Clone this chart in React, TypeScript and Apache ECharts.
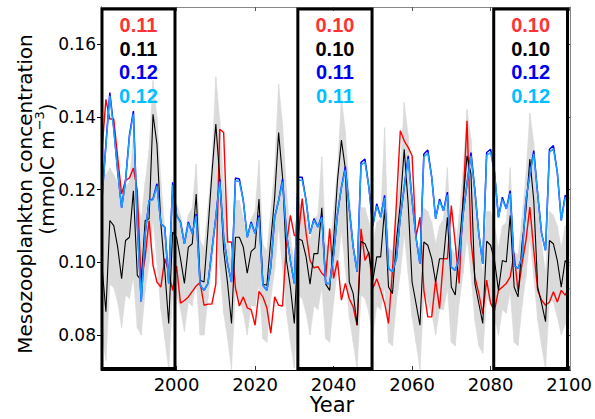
import React, { useEffect, useRef } from "react";
import * as echarts from "echarts";

const FIRST_YEAR = 1981;
const years: number[] = Array.from({ length: 120 }, (_, i) => FIRST_YEAR + i);

const xTicks = [2000, 2020, 2040, 2060, 2080, 2100];
const yTicks = [0.08, 0.1, 0.12, 0.14, 0.16];

const redValues = [
  0.1307, 0.1448, 0.1394, 0.1394, 0.1289, 0.1188, 0.1225, 0.1232, 0.1259, 0.1197,
  0.0942, 0.1015, 0.1115, 0.0992, 0.0946, 0.0932, 0.1010, 0.0974, 0.0923, 0.0990,
  0.0888, 0.0895, 0.0905, 0.0920, 0.0935, 0.0945, 0.0882, 0.0885, 0.0885, 0.0940,
  0.1366, 0.1357, 0.1056, 0.1056, 0.0930, 0.0880, 0.0905, 0.0875, 0.0870, 0.0827,
  0.0920, 0.0905, 0.0875, 0.0805, 0.0905, 0.0882, 0.0880, 0.1051, 0.1129, 0.1074,
  0.1070, 0.1175, 0.1080, 0.1005, 0.0985, 0.0988, 0.0970, 0.0960, 0.1093, 0.0956,
  0.1005, 0.0896, 0.0942, 0.0900, 0.0877, 0.0827, 0.1092, 0.1005, 0.1028, 0.0928,
  0.0955, 0.0923, 0.0887, 0.0832, 0.0978, 0.1161, 0.1362, 0.1334, 0.1316, 0.1293,
  0.1069, 0.1124, 0.0923, 0.0850, 0.0850, 0.0951, 0.0873, 0.1010, 0.1010, 0.1156,
  0.1051, 0.0942, 0.1170, 0.1389, 0.1060, 0.0960, 0.0914, 0.0859, 0.0951, 0.0887,
  0.0868, 0.0923, 0.0932, 0.0942, 0.0960, 0.1024, 0.0919, 0.0996, 0.1060, 0.1152,
  0.1033, 0.0923, 0.0896, 0.0882, 0.0891, 0.0919, 0.0891, 0.0923, 0.0910, 0.0930,
];

const blackValues = [
  0.0990, 0.0864, 0.1115, 0.1101, 0.1042, 0.0955, 0.1060, 0.1069, 0.1197, 0.0964,
  0.0951, 0.1115, 0.1120, 0.1407, 0.1325, 0.1106, 0.0978, 0.0832, 0.1083, 0.1069,
  0.1010, 0.0942, 0.1042, 0.1051, 0.1188, 0.0951, 0.0946, 0.1088, 0.1243, 0.1380,
  0.1234, 0.1033, 0.0942, 0.0832, 0.1069, 0.1069, 0.1042, 0.0970, 0.1030, 0.1040,
  0.1174, 0.0940, 0.0937, 0.1060, 0.1180, 0.1357, 0.1234, 0.1005, 0.0932, 0.0832,
  0.1065, 0.1060, 0.1015, 0.0940, 0.1024, 0.1024, 0.1150, 0.0940, 0.0923, 0.1060,
  0.1225, 0.1336, 0.1257, 0.0946, 0.0914, 0.0827, 0.1058, 0.1051, 0.1024, 0.0951,
  0.1015, 0.1015, 0.1147, 0.0932, 0.0914, 0.1060, 0.1161, 0.1311, 0.1161, 0.0946,
  0.0887, 0.0827, 0.1056, 0.1047, 0.1010, 0.0946, 0.1010, 0.1010, 0.1124, 0.0932,
  0.0910, 0.1042, 0.1170, 0.1293, 0.1243, 0.0942, 0.0887, 0.0832, 0.1058, 0.1047,
  0.1005, 0.0923, 0.1005, 0.1001, 0.1129, 0.0932, 0.0905, 0.1051, 0.1142, 0.1284,
  0.1170, 0.0932, 0.0887, 0.0837, 0.1060, 0.1051, 0.1005, 0.0932, 0.1005, 0.0990,
];

const blueValues = [
  0.1174, 0.1325, 0.1467, 0.1370, 0.1250, 0.1150, 0.1225, 0.1350, 0.1416, 0.1106,
  0.0891, 0.1079, 0.1170, 0.1174, 0.1216, 0.1106, 0.1097, 0.0942, 0.1220, 0.1129,
  0.1111, 0.1051, 0.1111, 0.1079, 0.1133, 0.0937, 0.0923, 0.0942, 0.1033, 0.1124,
  0.1229, 0.1069, 0.0996, 0.0946, 0.1232, 0.1229, 0.1170, 0.1069, 0.1111, 0.1079,
  0.1129, 0.0937, 0.0923, 0.0987, 0.1124, 0.1170, 0.1229, 0.1079, 0.1005, 0.0942,
  0.1234, 0.1234, 0.1170, 0.1079, 0.1120, 0.1097, 0.1129, 0.0942, 0.0942, 0.1020,
  0.1133, 0.1206, 0.1263, 0.1147, 0.1042, 0.0974, 0.1275, 0.1284, 0.1206, 0.1101,
  0.1161, 0.1124, 0.1184, 0.0983, 0.0974, 0.1010, 0.1124, 0.1206, 0.1293, 0.1170,
  0.1069, 0.0996, 0.1298, 0.1309, 0.1234, 0.1120, 0.1174, 0.1142, 0.1193, 0.0987,
  0.0978, 0.1010, 0.1133, 0.1216, 0.1302, 0.1197, 0.1079, 0.0996, 0.1302, 0.1311,
  0.1247, 0.1124, 0.1179, 0.1147, 0.1197, 0.0992, 0.0983, 0.1015, 0.1170, 0.1243,
  0.1307, 0.1188, 0.1079, 0.1033, 0.1311, 0.1321, 0.1247, 0.1115, 0.1184, 0.1175,
];

const cyanValues = [
  0.1174, 0.1320, 0.1458, 0.1365, 0.1250, 0.1150, 0.1222, 0.1345, 0.1408, 0.1106,
  0.0891, 0.1079, 0.1170, 0.1172, 0.1209, 0.1106, 0.1097, 0.0942, 0.1213, 0.1129,
  0.1109, 0.1051, 0.1107, 0.1079, 0.1128, 0.0937, 0.0923, 0.0942, 0.1033, 0.1124,
  0.1222, 0.1069, 0.0996, 0.0946, 0.1224, 0.1222, 0.1170, 0.1069, 0.1107, 0.1079,
  0.1124, 0.0937, 0.0923, 0.0987, 0.1124, 0.1170, 0.1222, 0.1079, 0.1005, 0.0942,
  0.1226, 0.1226, 0.1170, 0.1079, 0.1116, 0.1097, 0.1124, 0.0942, 0.0942, 0.1020,
  0.1133, 0.1206, 0.1254, 0.1147, 0.1042, 0.0974, 0.1268, 0.1275, 0.1206, 0.1101,
  0.1155, 0.1124, 0.1177, 0.0983, 0.0974, 0.1010, 0.1124, 0.1206, 0.1284, 0.1170,
  0.1069, 0.0996, 0.1290, 0.1300, 0.1234, 0.1120, 0.1169, 0.1142, 0.1186, 0.0987,
  0.0978, 0.1010, 0.1133, 0.1216, 0.1293, 0.1197, 0.1079, 0.0996, 0.1294, 0.1302,
  0.1247, 0.1124, 0.1173, 0.1147, 0.1190, 0.0992, 0.0983, 0.1015, 0.1170, 0.1243,
  0.1298, 0.1188, 0.1079, 0.1033, 0.1303, 0.1312, 0.1247, 0.1115, 0.1178, 0.1175,
];

const bandUpper = [
  0.125, 0.124, 0.126, 0.124, 0.122, 0.118, 0.121, 0.122, 0.135, 0.116,
  0.112, 0.122, 0.131, 0.150, 0.140, 0.122, 0.109, 0.100, 0.118, 0.116,
  0.113, 0.107, 0.113, 0.115, 0.127, 0.106, 0.104, 0.115, 0.127, 0.151,
  0.139, 0.121, 0.108, 0.099, 0.117, 0.117, 0.112, 0.106, 0.112, 0.114,
  0.128, 0.105, 0.103, 0.114, 0.126, 0.149, 0.138, 0.120, 0.107, 0.099,
  0.116, 0.116, 0.112, 0.106, 0.112, 0.113, 0.129, 0.105, 0.104, 0.114,
  0.126, 0.145, 0.136, 0.119, 0.106, 0.098, 0.115, 0.115, 0.111, 0.105,
  0.111, 0.112, 0.137, 0.104, 0.103, 0.113, 0.125, 0.144, 0.135, 0.118,
  0.106, 0.098, 0.115, 0.114, 0.111, 0.105, 0.110, 0.112, 0.126, 0.104,
  0.102, 0.113, 0.125, 0.142, 0.134, 0.118, 0.105, 0.097, 0.114, 0.114,
  0.110, 0.104, 0.110, 0.111, 0.126, 0.103, 0.102, 0.112, 0.124, 0.141,
  0.133, 0.117, 0.105, 0.097, 0.114, 0.113, 0.110, 0.104, 0.110, 0.111,
];

const bandLower = [
  0.080, 0.073, 0.094, 0.093, 0.089, 0.082, 0.091, 0.090, 0.096, 0.082,
  0.080, 0.092, 0.100, 0.112, 0.100, 0.087, 0.079, 0.0705, 0.092, 0.091,
  0.087, 0.081, 0.089, 0.088, 0.095, 0.080, 0.080, 0.090, 0.099, 0.111,
  0.099, 0.086, 0.079, 0.0705, 0.092, 0.090, 0.086, 0.080, 0.088, 0.088,
  0.094, 0.079, 0.078, 0.090, 0.098, 0.110, 0.098, 0.086, 0.078, 0.071,
  0.091, 0.090, 0.086, 0.080, 0.088, 0.087, 0.093, 0.079, 0.078, 0.089,
  0.098, 0.109, 0.098, 0.085, 0.078, 0.0705, 0.091, 0.090, 0.086, 0.080,
  0.088, 0.087, 0.093, 0.078, 0.077, 0.089, 0.097, 0.108, 0.097, 0.085,
  0.078, 0.0705, 0.091, 0.089, 0.086, 0.080, 0.087, 0.087, 0.093, 0.078,
  0.077, 0.089, 0.097, 0.107, 0.097, 0.084, 0.077, 0.075, 0.090, 0.089,
  0.085, 0.080, 0.087, 0.086, 0.092, 0.078, 0.077, 0.088, 0.096, 0.107,
  0.096, 0.084, 0.077, 0.0705, 0.090, 0.089, 0.085, 0.080, 0.083, 0.086,
];

// Highlighted periods (boxes) and the values written inside them
const boxStart = [1981, 2030.9, 2080.8];
const boxEnd = [1999.6, 2049.8, 2099.6];
const boxLabels = [
  ["0.11", "0.11", "0.12", "0.12"],
  ["0.10", "0.10", "0.11", "0.11"],
  ["0.10", "0.10", "0.12", "0.12"],
];
const labelColors = ["#ff3333", "#000000", "#0000ee", "#00bfff"];

const X_MIN = 1980.75;
const X_MAX = 2100.3;
const Y_MIN = 0.0704;
const Y_MAX = 0.1702;

const FONT = "DejaVu Sans";

export default function App() {
  const ref = useRef<HTMLDivElement>(null);

  useEffect(() => {
    if (!ref.current) return;
    const chart = echarts.init(ref.current, undefined, { renderer: "svg" });
    const pair = (arr: number[]) => arr.map((v, i) => [years[i], v]);
    const lineSeries = (name: string, arr: number[], color: string, width: number, z: number) => ({
      name,
      type: "line",
      data: pair(arr),
      symbol: "none",
      showSymbol: false,
      silent: true,
      z,
      lineStyle: { color, width },
      itemStyle: { color },
    });

    // band segments: each item joins year i and year i+1
    const bandData = years.slice(0, -1).map((y, i) => [
      y,
      bandLower[i],
      bandUpper[i],
      years[i + 1],
      bandLower[i + 1],
      bandUpper[i + 1],
    ]);

    chart.setOption({
      animation: false,
      backgroundColor: "#ffffff",
      grid: { left: 101, right: 24, top: 7, bottom: 49 },
      xAxis: [
        {
          type: "value",
          min: X_MIN,
          max: X_MAX,
          position: "bottom",
          axisLine: { show: true, lineStyle: { color: "#000", width: 1 } },
          axisTick: { show: true, inside: true, length: 4, customValues: xTicks, lineStyle: { color: "#333" } },
          axisLabel: {
            show: true,
            customValues: xTicks,
            fontSize: 18,
            fontFamily: FONT,
            color: "#000",
            margin: 5,
            formatter: (v: number) => String(Math.round(v)),
          },
          splitLine: { show: false },
        },
        {
          type: "value",
          min: X_MIN,
          max: X_MAX,
          position: "top",
          axisLine: { show: true, lineStyle: { color: "#888", width: 1 } },
          axisTick: { show: true, inside: true, length: 4, customValues: xTicks, lineStyle: { color: "#555" } },
          axisLabel: { show: false },
          splitLine: { show: false },
        },
      ],
      yAxis: [
        {
          type: "value",
          min: Y_MIN,
          max: Y_MAX,
          position: "left",
          axisLine: { show: true, lineStyle: { color: "#000", width: 1 } },
          axisTick: { show: true, inside: false, length: 4, customValues: yTicks, lineStyle: { color: "#000" } },
          axisLabel: {
            show: true,
            customValues: yTicks,
            fontSize: 17,
            fontFamily: FONT,
            color: "#000",
            margin: 5,
            formatter: (v: number) => v.toFixed(2),
          },
          splitLine: { show: false },
        },
        {
          type: "value",
          min: Y_MIN,
          max: Y_MAX,
          position: "right",
          axisLine: { show: true, lineStyle: { color: "#888", width: 1 } },
          axisTick: { show: true, inside: true, length: 4, customValues: yTicks, lineStyle: { color: "#555" } },
          axisLabel: { show: false },
          splitLine: { show: false },
        },
      ],
      graphic: [
        {
          type: "text",
          x: 25,
          y: 194,
          rotation: Math.PI / 2,
          style: {
            text: "Mesozooplankton concentration",
            fontSize: 20,
            fontFamily: FONT,
            fill: "#000",
            align: "center",
            verticalAlign: "middle",
          },
        },
        {
          type: "text",
          x: 45,
          y: 169,
          rotation: Math.PI / 2,
          style: {
            text: "{a|(mmolC m}{s|\u22123}{a|)}",
            rich: {
              a: { fontSize: 20, fontFamily: FONT, fill: "#000", lineHeight: 24, verticalAlign: "bottom" },
              s: { fontSize: 13, fontFamily: FONT, fill: "#000", lineHeight: 24, verticalAlign: "top" },
            },
            align: "center",
            verticalAlign: "middle",
          },
        },
        {
          type: "text",
          x: 332,
          y: 405,
          style: {
            text: "Year",
            fontSize: 21,
            fontFamily: FONT,
            fill: "#000",
            align: "center",
            verticalAlign: "middle",
          },
        },
      ],
      series: [
        {
          name: "band",
          type: "custom",
          silent: true,
          z: 1,
          data: bandData,
          encode: { x: [0, 3], y: [1, 2, 4, 5] },
          renderItem: (_params: any, api: any) => {
            const a = api.coord([api.value(0), api.value(1)]);
            const b = api.coord([api.value(3), api.value(4)]);
            const c = api.coord([api.value(3), api.value(5)]);
            const d = api.coord([api.value(0), api.value(2)]);
            return {
              type: "polygon",
              shape: { points: [a, b, c, d] },
              style: { fill: "#dadada", stroke: "#dadada", lineWidth: 0.6 },
            };
          },
        },
        lineSeries("red", redValues, "#ff0000", 1.4, 3),
        lineSeries("black", blackValues, "#000000", 1.1, 4),
        lineSeries("blue", blueValues, "#0000ff", 1.5, 5),
        lineSeries("cyan", cyanValues, "#1ea0ff", 1.5, 6),
        {
          name: "boxes",
          type: "custom",
          silent: true,
          clip: false,
          z: 10,
          data: boxStart.map((s, i) => [s, boxEnd[i], i]),
          encode: { x: [0, 1] },
          renderItem: (_params: any, api: any) => {
            const idx = api.value(2);
            const p0 = api.coord([api.value(0), Y_MAX - 0.00055]);
            const p1 = api.coord([api.value(1), Y_MIN + 0.0004]);
            const cx = (p0[0] + p1[0]) / 2;
            const children: any[] = [
              {
                type: "rect",
                shape: { x: p0[0], y: p0[1], width: p1[0] - p0[0], height: p1[1] - p0[1] },
                style: { fill: "none", stroke: "#000", lineWidth: 3 },
              },
            ];
            boxLabels[idx].forEach((t, k) => {
              children.push({
                type: "text",
                x: cx,
                y: p0[1] + 16 + 23.5 * k,
                style: {
                  text: t,
                  fill: labelColors[k],
                  fontSize: 20,
                  fontWeight: "bold",
                  fontFamily: "Liberation Sans",
                  align: "center",
                  verticalAlign: "middle",
                },
              });
            });
            return { type: "group", children };
          },
        },
      ],
    });

    return () => chart.dispose();
  }, []);

  return (
    <div
      ref={ref}
      style={{ position: "absolute", left: 0, top: 0, width: 595, height: 419, background: "#fff" }}
    />
  );
}
